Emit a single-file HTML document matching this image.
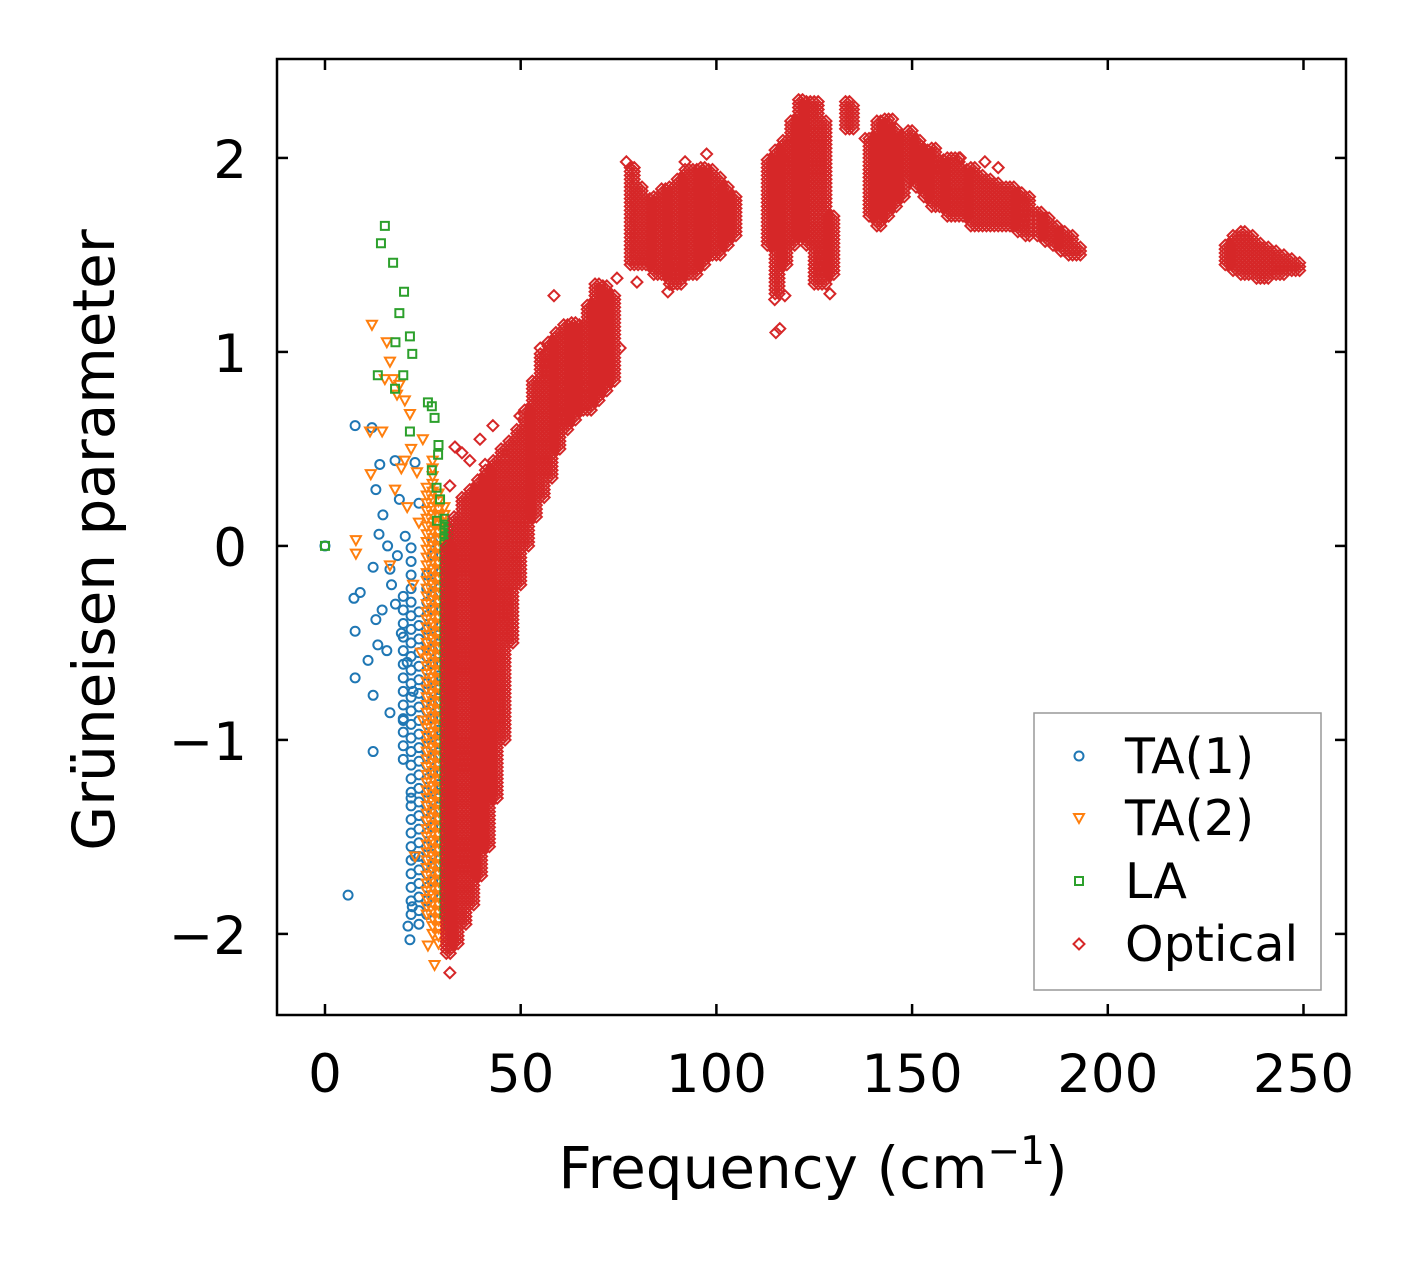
<!DOCTYPE html>
<html><head><meta charset="utf-8">
<style>
html,body{margin:0;padding:0;background:#fff;}
svg{display:block;font-family:"DejaVu Sans","Liberation Sans",sans-serif;}
</style></head>
<body>
<svg id="chart" width="1418" height="1264" viewBox="0 0 1418 1264" xmlns="http://www.w3.org/2000/svg">
<rect x="0" y="0" width="1418" height="1264" fill="#fff"/>
<g id="marks"></g>
<rect x="277" y="59" width="1069" height="956" fill="none" stroke="#000" stroke-width="2.5"/>
<g id="axes"></g>
<text x="813" y="1188" font-size="58" text-anchor="middle">Frequency (cm<tspan font-size="39" dy="-24">−1</tspan><tspan dy="24">)</tspan></text>
<text x="0" y="0" font-size="58" text-anchor="middle" transform="translate(114,540) rotate(-90)">Grüneisen parameter</text>
<g>
<rect x="1034" y="713" width="287" height="277" fill="#fff" stroke="#999" stroke-width="1.5"/>
<g id="legend-items"></g>
</g>
</svg>
<script>
// axis domain
const xDomain=[-12.26,260.86];
const yDomain=[-2.418,2.510];
const xTicks=[0,50,100,150,200,250];
const yTicks=[-2,-1,0,1,2];
const xTickLabels=["0","50","100","150","200","250"];
const yTickLabels=["−2","−1","0","1","2"];
const seriesNames=["TA(1)","TA(2)","LA","Optical"];
// scattered points [freq, gamma]
const ta1Points=[[7.7,0.62],[12,0.61],[0,0],[5.9,-1.8],[12.3,-1.06],[7.7,-0.44],[7.7,-0.68],[9,-0.24],[7.4,-0.27],[12.3,-0.77],[16.6,-0.86],[11,-0.59],[13,-0.38],[14,0.42],[13,0.29],[14.8,0.16],[13.8,0.06],[16,0],[16.6,-0.12],[12.3,-0.11],[14.6,-0.33],[13.5,-0.51],[15.8,-0.54],[17.9,0.44],[19,0.24],[21.7,-2.03],[21.2,-1.96],[22.3,-1.86],[18,-0.3],[19.5,-0.45],[17,-0.2],[20.5,0.05],[23,0.43],[21,-0.6],[22.5,-0.75],[18.5,-0.05],[24,0.22],[20,-0.9],[22,-1.3],[23,-1.6]];
const ta2Points=[[12,1.14],[15.8,1.05],[16.6,0.95],[15.3,0.86],[14.6,0.59],[11.5,0.59],[7.9,0.03],[7.9,-0.04],[11.7,0.37],[17.4,0.86],[18.4,0.78],[19,0.83],[20.4,0.75],[21.7,0.68],[20.4,0.44],[17.9,0.29],[16.6,-0.1],[28,-2.16],[26.3,-2.06],[22,0.5],[23.5,0.38],[24,0.12],[25,0.55],[22.5,-0.2],[24.5,-0.55],[25,-0.9],[23,-1.6],[19.5,0.4],[21,0.2]];
const laPoints=[[15.3,1.65],[14.3,1.56],[17.4,1.46],[20.2,1.31],[19,1.2],[21.7,1.08],[18,1.05],[22.3,0.99],[13.5,0.88],[20,0.88],[17.9,0.81],[26.3,0.74],[27.3,0.72],[28,0.66],[21.7,0.59],[0,0],[27.3,0.39],[28.9,0.47],[29.4,0.24],[28.6,0.13],[29,0.52],[28.5,0.3]];
const opticalPoints=[[31.9,-2.2],[58.5,1.29],[42.9,0.62],[39.6,0.55],[33.2,0.51],[37,0.44],[31.9,0.31],[75.4,1.02],[74.6,1.38],[79.7,1.36],[87.6,1.31],[97.5,2.02],[77,1.98],[115.2,1.1],[116.2,1.12],[114.9,1.27],[117.5,1.29],[129,1.3],[127,1.35],[168.6,1.98],[162.3,2.0],[49.8,0.67],[48.5,0.55],[42.7,0.24],[40.9,0.42],[35,0.48],[45,0.5],[55,1.02],[92,1.98],[120,2.03],[117,2.0],[138,2.1],[145,2.2],[172,1.95],[181,1.72]];
// dense bands: [freq, minGamma, maxGamma]
const ta1Bands=[[20,-1.1,-0.2],[22,-1.9,0.0],[24,-1.95,-0.3],[26,-1.9,-0.1],[27.5,-1.8,0.05],[29,-1.3,-0.4]];
const ta2Bands=[[26,-1.9,0.3],[27.5,-2.0,0.45],[29,-2.05,0.3],[30.5,-2.0,0.2]];
const laBands=[[30.5,-1.9,0.15],[31.5,-1.95,0.1]];
const opticalBands=[[31,-2.1,0.0],[33,-2.05,0.15],[35,-1.95,0.25],[37,-1.85,0.3],[39,-1.7,0.35],[41,-1.55,0.4],[43,-1.3,0.45],[45,-1.0,0.5],[47,-0.5,0.55],[49,-0.2,0.6],[51,0.0,0.7],[53,0.15,0.85],[55,0.25,1.0],[57,0.35,1.05],[59,0.5,1.1],[61,0.6,1.15],[63,0.65,1.15],[65,0.7,1.15],[67,0.7,1.25],[69,0.75,1.35],[71,0.8,1.35],[73,0.85,1.3],
[78,1.45,1.95],[80,1.45,1.85],[82,1.45,1.8],[84,1.4,1.8],[86,1.4,1.85],[88,1.35,1.85],[90,1.35,1.9],[92,1.4,1.95],[94,1.4,1.95],[96,1.45,1.95],[98,1.5,1.95],[100,1.5,1.9],[102,1.55,1.85],[104,1.6,1.8],
[113,1.55,2.0],[115,1.3,2.05],[117,1.45,2.1],[119,1.55,2.2],[121,1.6,2.3],[123,1.55,2.3],[125,1.35,2.3],[127,1.35,2.2],[129,1.4,1.7],
[133,2.15,2.3],[134,2.15,2.28],[139,1.7,2.1],[141,1.65,2.2],[143,1.7,2.2],[145,1.75,2.15],[147,1.8,2.1],
[149,1.9,2.15],[151,1.85,2.1],[153,1.8,2.05],[155,1.75,2.05],[157,1.75,2.0],[159,1.7,2.0],[161,1.7,2.0],[163,1.7,1.95],[165,1.65,1.95],[167,1.65,1.92],[169,1.65,1.9],[171,1.65,1.88],[173,1.65,1.85],[175,1.65,1.85],[177,1.62,1.82],[179,1.6,1.8],[182,1.6,1.72],[184,1.57,1.7],[186,1.55,1.66],[188,1.52,1.62],[190,1.5,1.6],[192,1.5,1.55],
[230,1.45,1.55],[232,1.42,1.6],[234,1.4,1.62],[236,1.4,1.6],[238,1.38,1.56],[240,1.38,1.55],[242,1.4,1.52],[244,1.4,1.5],[246,1.42,1.48],[248,1.42,1.46]];

const colors=["#1f77b4","#ff7f0e","#2ca02c","#d62728"];
const L=277,R=1346,T=59,B=1015;
function sx(v){return L+(v-xDomain[0])/(xDomain[1]-xDomain[0])*(R-L);}
function sy(v){return B-(v-yDomain[0])/(yDomain[1]-yDomain[0])*(B-T);}
const NS="http://www.w3.org/2000/svg";
function shapePath(kind,x,y){
  if(kind===0){return "M"+(x-4.5)+","+y+"a4.5,4.5 0 1,0 9,0a4.5,4.5 0 1,0 -9,0";}
  if(kind===1){return "M"+(x-5)+","+(y-4)+"L"+(x+5)+","+(y-4)+"L"+x+","+(y+5)+"Z";}
  if(kind===2){return "M"+(x-4)+","+(y-4)+"h8v8h-8Z";}
  return "M"+x+","+(y-5.5)+"L"+(x+5.5)+","+y+"L"+x+","+(y+5.5)+"L"+(x-5.5)+","+y+"Z";
}
const marks=document.getElementById('marks');
function drawSeries(kind,points,bands,steps,offsets){
  let d="";
  bands.forEach(b=>{
    offsets.forEach(o=>{
      for(let g=b[1];g<=b[2]+1e-9;g+=steps){d+=shapePath(kind,sx(b[0]+o),sy(g));}
    });
  });
  points.forEach(p=>{d+=shapePath(kind,sx(p[0]),sy(p[1]));});
  const path=document.createElementNS(NS,'path');
  
  
  path.setAttribute('d',d);
  path.setAttribute('fill','none');
  path.setAttribute('stroke',colors[kind]);
  path.setAttribute('stroke-width','2');
  marks.appendChild(path);
}
drawSeries(0,ta1Points,ta1Bands,0.07,[0]);
drawSeries(1,ta2Points,ta2Bands,0.04,[0]);
drawSeries(2,laPoints,laBands,0.03,[0]);
drawSeries(3,opticalPoints,opticalBands,0.02,[0,1]);

const axes=document.getElementById('axes');
function line(x1,y1,x2,y2,name){
  const l=document.createElementNS(NS,'line');
  
  
  l.setAttribute('x1',x1);l.setAttribute('y1',y1);l.setAttribute('x2',x2);l.setAttribute('y2',y2);
  l.setAttribute('stroke','#000');l.setAttribute('stroke-width','2.5');
  axes.appendChild(l);
}
function text(x,y,s,anchor,size,name){
  const t=document.createElementNS(NS,'text');
  
  
  t.setAttribute('x',x);t.setAttribute('y',y);
  t.setAttribute('text-anchor',anchor);t.setAttribute('font-size',size);
  t.textContent=s;axes.appendChild(t);
}
xTicks.forEach((v,i)=>{
  const x=sx(v);
  line(x,B,x,B-11,'x-tick');
  line(x,T,x,T+11,'x-tick-top');
  text(x,1092,xTickLabels[i],'middle',53,'x-tick-label');
});
yTicks.forEach((v,i)=>{
  const y=sy(v);
  line(L,y,L+11,y,'y-tick');
  line(R,y,R-11,y,'y-tick-right');
  text(247,y+20,yTickLabels[i],'end',53,'y-tick-label');
});
const li=document.getElementById('legend-items');
const ly=[756,818,881,944];
seriesNames.forEach((n,i)=>{
  const p=document.createElementNS(NS,'path');
  
  
  p.setAttribute('d',shapePath(i,1079,ly[i]));
  p.setAttribute('fill','none');p.setAttribute('stroke',colors[i]);p.setAttribute('stroke-width','2');
  li.appendChild(p);
  const t=document.createElementNS(NS,'text');
  
  
  t.setAttribute('x',1125);t.setAttribute('y',ly[i]+17);t.setAttribute('font-size','49');
  t.textContent=n;li.appendChild(t);
});
</script>
</body></html>
